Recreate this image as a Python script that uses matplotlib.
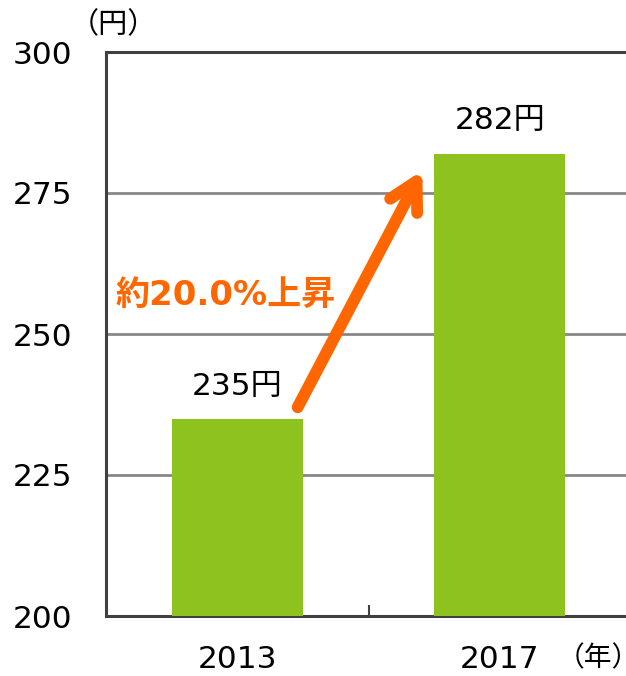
import matplotlib
matplotlib.use('Agg')
import matplotlib.pyplot as plt

plt.rcParams['font.family'] = ['DejaVu Sans', 'Noto Sans CJK JP']

years = ['2013', '2017']
prices = [235, 282]
bar_labels = ['235円', '282円']
yticks = [200, 225, 250, 275, 300]
rise_text = '約20.0%上昇'

green = '#8DC21F'
orange = '#FF6600'
dark = '#404040'

fig = plt.figure(figsize=(6.26, 6.76), dpi=100)
ax = fig.add_axes([106/626, 60/676, 525/626, 564/676])

x = range(len(years))
ax.bar(x, [p - 200 for p in prices], bottom=200, width=0.5, color=green, zorder=3)

ax.set_xlim(-0.5, 1.5)
ax.set_ylim(200, 300)
ax.set_yticks(yticks)
ax.set_yticklabels([str(t) for t in yticks], fontsize=22.5)
ax.set_xticks(list(x))
ax.set_xticklabels(years, fontsize=22.5)
ax.tick_params(axis='y', length=0, pad=24)
ax.tick_params(axis='x', length=0, pad=21)
ax.set_xticks([0.5], minor=True)
ax.tick_params(axis='x', which='minor', direction='in', length=8, width=1.5, color=dark)

for t in yticks[1:-1]:
    ax.axhline(t, color='#888888', lw=2, zorder=1)

for s in ['left', 'bottom', 'top']:
    ax.spines[s].set_color(dark)
    ax.spines[s].set_linewidth(2.2)
ax.spines['right'].set_visible(False)

for i, p in enumerate(prices):
    ax.text(i, p + 3.2, bar_labels[i], ha='center', va='bottom', fontsize=22.5, color='black')

# arrow from 2013 bar to 2017 bar
ax.annotate('', xy=(1 - 0.295, prices[1] - 3), xytext=(0 + 0.23, prices[0] + 2),
            arrowprops=dict(arrowstyle='->, head_length=1.0, head_width=0.55',
                            color=orange, lw=8.5, capstyle='round', joinstyle='round',
                            mutation_scale=20, shrinkA=0, shrinkB=0))
ax.text(-0.043, 256.8, rise_text, ha='center', va='center', fontsize=24.5,
        fontweight='bold', color=orange)

fig.text(113/626, 1 - 25/676, '（円）', ha='center', va='center', fontsize=21)
fig.text(598/626, 1 - 658/676, '（年）', ha='center', va='center', fontsize=20)

fig.savefig('out.png', dpi=100)
